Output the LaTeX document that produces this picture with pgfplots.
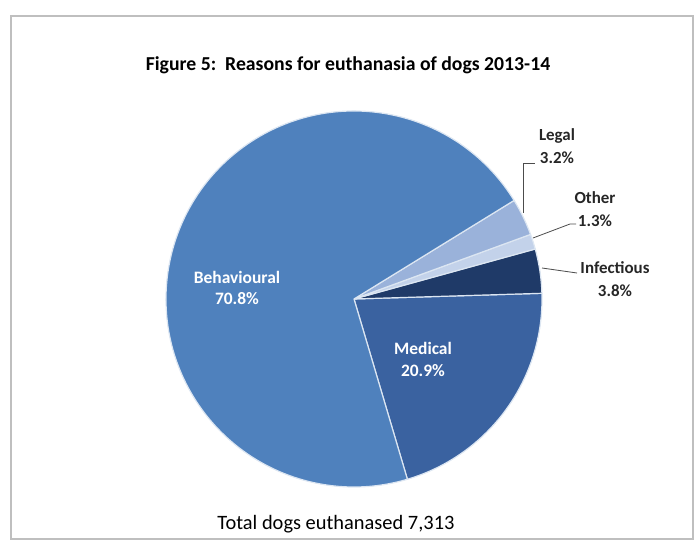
\documentclass[border=0pt]{standalone}
\usepackage{pgfplots}
\pgfplotsset{compat=1.18}
\usepackage{pgfplotstable}
\usepackage{fontspec}
\setmainfont{Carlito}

\definecolor{beh}{HTML}{4F81BD}
\definecolor{med}{HTML}{3A62A0}
\definecolor{inf}{HTML}{1F3A68}
\definecolor{oth}{HTML}{C3D2EA}
\definecolor{leg}{HTML}{9AB2DA}
\definecolor{sep}{HTML}{DCE6F2}

\pgfplotstableread{
label value
Medical 20.9
Infectious 3.8
Other 1.3
Legal 3.2
Behavioural 70.8
}\piedata

\begin{document}
\begin{tikzpicture}
\begin{axis}[scale only axis, width=694bp, height=549bp,
  xmin=0, xmax=694, ymin=0, ymax=549, hide axis, clip=false]
\pgfplotsextra{
  \path (axis cs:0,0) rectangle (axis cs:694,549);
  \draw[black!25, line width=1.5bp] (axis cs:11,10) rectangle (axis cs:693,533);
  \xdef\cumang{-73.5}
  \foreach \i/\col in {0/med,1/inf,2/oth,3/leg,4/beh}{
    \pgfplotstablegetelem{\i}{value}\of\piedata
    \pgfmathsetmacro\endang{\cumang+3.6*\pgfplotsretval}
    \fill[\col, draw=sep, line width=1.2bp, line join=round]
      (axis cs:354,250) -- ++(\cumang:188bp)
      arc[start angle=\cumang, end angle=\endang, radius=188bp] -- cycle;
    \xdef\cumang{\endang}
  }
  % leader lines
  \draw[black!70, line width=0.8bp] (axis cs:523,336) -- (axis cs:523,386) -- (axis cs:535,386);
  \draw[black!70, line width=0.8bp] (axis cs:533,311) -- (axis cs:570,325) -- (axis cs:576,325);
  \draw[black!70, line width=0.8bp] (axis cs:542,281) -- (axis cs:577,276);
}
\node[font=\bfseries\fontsize{19.8}{23}\selectfont] at (axis cs:348,484) {Figure 5:\ \ Reasons for euthanasia of dogs 2013-14};
\node[font=\fontsize{20.5}{24}\selectfont] at (axis cs:336,25) {Total dogs euthanased 7,313};
\node[white, font=\bfseries\fontsize{17.5}{22}\selectfont, align=center] at (axis cs:237,261) {Behavioural\\70.8\%};
\node[white, font=\bfseries\fontsize{17.5}{22}\selectfont, align=center] at (axis cs:423,190) {Medical\\20.9\%};
\node[black!85, font=\bfseries\fontsize{17}{23}\selectfont, align=center] at (axis cs:557,403) {Legal\\3.2\%};
\node[black!85, font=\bfseries\fontsize{17}{23}\selectfont, align=center] at (axis cs:595,340) {Other\\1.3\%};
\node[black!85, font=\bfseries\fontsize{17}{23}\selectfont, align=center] at (axis cs:615,270) {Infectious\\3.8\%};
\end{axis}
\end{tikzpicture}
\end{document}
